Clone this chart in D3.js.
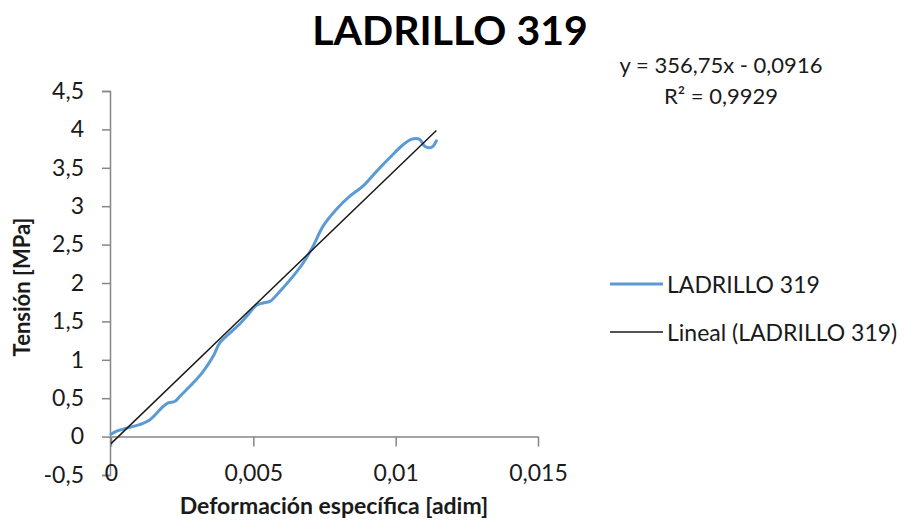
<!DOCTYPE html>
<html><head><meta charset="utf-8">
<script src="https://cdn.jsdelivr.net/npm/d3@7"></script>
<style>body{margin:0;background:#fff}svg{display:block}text{font-family:Lato,"Open Sans",sans-serif}</style>
</head><body><svg id="c" width="904" height="524"></svg>
<script>
const title = "LADRILLO 319";
const seriesName = "LADRILLO 319";
const trendName = "Lineal (LADRILLO 319)";
const xTitle = "Deformación específica [adim]";
const yTitle = "Tensión [MPa]";
const eqLines = ["y = 356,75x - 0,0916", "R² = 0,9929"];
const slope = 356.75, intercept = -0.0916;
const xTicks = [0, 0.005, 0.01, 0.015];
const yTicks = [-0.5, 0, 0.5, 1, 1.5, 2, 2.5, 3, 3.5, 4, 4.5];
const strain = [0, 0.0002, 0.00055, 0.001, 0.00137, 0.00184, 0.00201, 0.00225, 0.00242, 0.00289, 0.00324, 0.00359, 0.00382, 0.00418, 0.00453, 0.00482, 0.00511, 0.00534, 0.00558, 0.00593, 0.0064, 0.00675, 0.0071, 0.00745, 0.00792, 0.00839, 0.00885, 0.00932, 0.00979, 0.01026, 0.01055, 0.01084, 0.01102, 0.01119, 0.01131, 0.01143];
const stress = [0.03, 0.07, 0.11, 0.155, 0.22, 0.395, 0.44, 0.46, 0.525, 0.70, 0.85, 1.045, 1.22, 1.35, 1.47, 1.59, 1.71, 1.74, 1.76, 1.89, 2.09, 2.26, 2.48, 2.74, 2.96, 3.13, 3.26, 3.45, 3.63, 3.80, 3.87, 3.87, 3.78, 3.76, 3.78, 3.85];

const svg = d3.select("#c");
const x = d3.scaleLinear().domain([0, 0.015]).range([111, 538]);
const y = d3.scaleLinear().domain([-0.5, 4.5]).range([475, 91]);
const fmt = d => String(d).replace(".", ",");
const axisColor = "#868686", textColor = "#1a1a1a";

// Y axis
const ya = svg.append("g").attr("transform", "translate(110,0)")
  .call(d3.axisLeft(y).tickValues(yTicks).tickFormat(fmt).tickSize(8).tickPadding(18));
ya.select(".domain").attr("stroke", axisColor).attr("stroke-width", 1.5);
ya.selectAll(".tick line").attr("stroke", axisColor).attr("stroke-width", 1.5);
ya.selectAll(".tick text").attr("fill", textColor).style("font-size", "23px").attr("font-family", "Lato");

// X axis at y=0
const xa = svg.append("g").attr("transform", `translate(0,${y(0)})`)
  .call(d3.axisBottom(x).tickValues(xTicks).tickFormat(fmt).tickSize(10).tickSizeOuter(0));
xa.select(".domain").attr("stroke", axisColor).attr("stroke-width", 1.5);
xa.selectAll(".tick line").attr("stroke", axisColor).attr("stroke-width", 1.5);
xa.selectAll(".tick text").attr("fill", textColor).style("font-size", "23px").attr("font-family", "Lato")
  .attr("dy", null).attr("y", 44);

// data line
const line = d3.line().x((d, i) => x(strain[i])).y(d => y(d)).curve(d3.curveCatmullRom.alpha(0.5));
svg.append("path").datum(stress).attr("d", line).attr("fill", "none")
  .attr("stroke", "#5B9BD5").attr("stroke-width", 3).attr("stroke-linejoin", "round").attr("stroke-linecap", "round");

// trendline
const xMax = d3.max(strain);
svg.append("line").attr("x1", x(0)).attr("y1", y(intercept)).attr("x2", x(xMax)).attr("y2", y(slope * xMax + intercept))
  .attr("stroke", "#1a1a1a").attr("stroke-width", 1.5);

// title
svg.append("text").attr("x", 450).attr("y", 45).attr("text-anchor", "middle")
  .style("font-size", "41px").style("font-weight", "bold").attr("fill", "#000").text(title);

// equation
svg.selectAll(".eq").data(eqLines).enter().append("text")
  .attr("x", 721).attr("y", (d, i) => 73 + i * 31).attr("text-anchor", "middle")
  .style("font-size", "22px").attr("fill", textColor).text(d => d);

// axis titles
svg.append("text").attr("x", 334).attr("y", 514).attr("text-anchor", "middle")
  .style("font-size", "23px").style("font-weight", "bold").attr("fill", textColor).text(xTitle);
svg.append("text").attr("transform", "translate(30,287) rotate(-90)").attr("text-anchor", "middle")
  .style("font-size", "22px").style("font-weight", "bold").attr("fill", textColor).text(yTitle);

// legend
const leg = [{name: seriesName, color: "#5B9BD5", w: 3, y: 284}, {name: trendName, color: "#1a1a1a", w: 1.5, y: 332}];
const lg = svg.selectAll(".leg").data(leg).enter().append("g");
lg.append("line").attr("x1", 610).attr("x2", 663).attr("y1", d => d.y).attr("y2", d => d.y)
  .attr("stroke", d => d.color).attr("stroke-width", d => d.w);
lg.append("text").attr("x", 667).attr("y", d => d.y + 9).style("font-size", "23px").attr("fill", textColor).text(d => d.name);
</script></body></html>
